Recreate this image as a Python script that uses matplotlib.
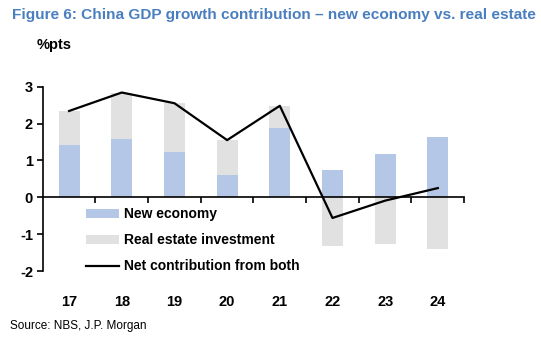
import numpy as np
import matplotlib.pyplot as plt

# data
years = ["17", "18", "19", "20", "21", "22", "23", "24"]
new_economy = [1.42, 1.59, 1.24, 0.61, 1.88, 0.75, 1.17, 1.64]
real_estate = [0.92, 1.25, 1.31, 0.94, 0.60, -1.31, -1.26, -1.39]
net_contrib = [2.34, 2.84, 2.55, 1.55, 2.48, -0.56, -0.09, 0.25]

plt.rcParams['font.family'] = ['Liberation Sans', 'DejaVu Sans']
plt.rcParams['axes.unicode_minus'] = False

fig = plt.figure(figsize=(5.41, 3.41), dpi=100)
ax = fig.add_axes([0.079, 0.205, 0.779, 0.541])

x = np.arange(len(years))
ne = np.array(new_economy)
re = np.array(real_estate)
re_bottom = np.where(re > 0, ne, 0)

b1 = ax.bar(x, ne, width=0.4, color="#B4C7E7", label="New economy", zorder=2)
b2 = ax.bar(x, re, width=0.4, bottom=re_bottom, color="#E1E1E1",
            label="Real estate investment", zorder=2)
l1, = ax.plot(x, net_contrib, color="black", lw=1.6, label="Net contribution from both", zorder=3)

ax.set_xlim(-0.5, len(years) - 0.5)
ax.set_ylim(-2, 3)
ax.set_yticks([-2, -1, 0, 1, 2, 3])
ax.tick_params(axis="y", direction="out", length=4, width=1.2, labelsize=10.5, pad=3)
for lbl in ax.get_yticklabels():
    lbl.set_fontweight("bold")

ax.spines["top"].set_visible(False)
ax.spines["right"].set_visible(False)
ax.spines["bottom"].set_position(("data", 0))
ax.spines["left"].set_linewidth(1.2)
ax.spines["bottom"].set_linewidth(1.2)

# category labels at bottom, tick marks at category boundaries
ax.set_xticks(x)
ax.set_xticklabels(years, fontsize=10.5, fontweight="bold")
ax.tick_params(axis="x", which="major", length=0, pad=70)
ax.set_xticks(np.arange(0.5, len(years), 1.0), minor=True)
ax.tick_params(axis="x", which="minor", direction="out", length=4, width=1.2)

ax.legend([b1, b2, l1], ["New economy", "Real estate investment", "Net contribution from both"],
          loc="upper left", bbox_to_anchor=(0.159, 0.392), bbox_transform=fig.transFigure,
          frameon=False, prop={"weight": "bold", "size": 10}, borderpad=0,
          handlelength=2.4, handletextpad=0.3, labelspacing=0.87, borderaxespad=0)

fig.text(0.022, 0.955, "Figure 6: China GDP growth contribution \u2013 new economy vs. real estate",
         color="#4A7FBF", fontsize=11.1, fontweight="bold", va="center", ha="left")
fig.text(0.068, 0.868, "%pts", fontsize=10.5, fontweight="bold", va="center")
fig.text(0.018, 0.044, "Source: NBS, J.P. Morgan", fontsize=8.5, va="center")

fig.savefig("out.png", dpi=100)
